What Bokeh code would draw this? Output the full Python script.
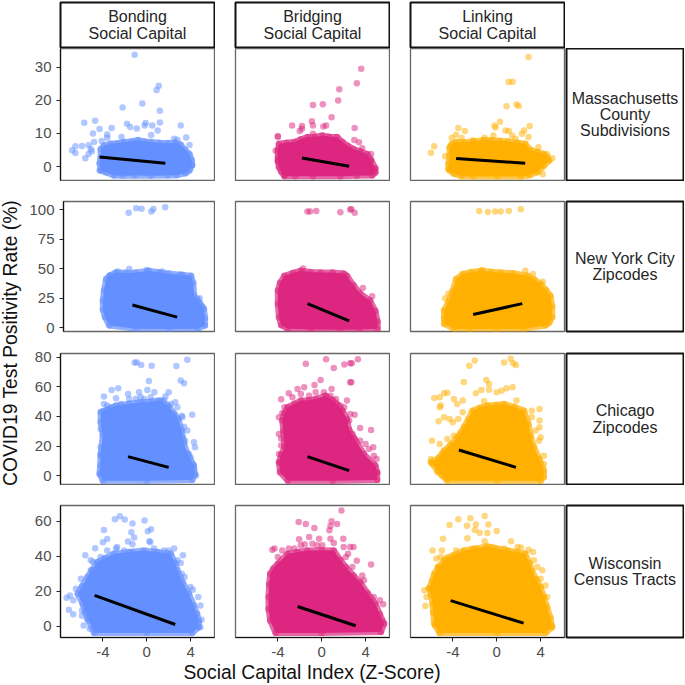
from bokeh.plotting import figure
from bokeh.layouts import row, column
from bokeh.models import Range1d, FixedTicker, Spacer
from bokeh.core.properties import value
from bokeh.embed import file_html
from bokeh.resources import INLINE
import math

# colours and labels
col_titles = ["Bonding\nSocial Capital", "Bridging\nSocial Capital", "Linking\nSocial Capital"]
row_titles = ["Massachusetts\nCounty\nSubdivisions", "New York City\nZipcodes", "Chicago\nZipcodes", "Wisconsin\nCensus Tracts"]
colors = ["#648FFF", "#DC267F", "#FFB000"]
x_title = "Social Capital Index (Z-Score)"
y_title = "COVID19 Test Positivity Rate (%)"
x_ticks = [-4, 0, 4]
y_ticks = [[0, 10, 20, 30], [0, 25, 50, 75, 100], [0, 20, 40, 60, 80], [0, 20, 40, 60]]
x_lim = (-7.86, 6.18)
y_lims = [(-4.2, 35.6), (-3.4, 107.2), (-6.0, 82.5), (-6.3, 69.0)]

# ---- Massachusetts ----
ma_bond_pts = [(-1.1,33.7),(1.1,24.4),(0.9,23.1),(-0.4,19.0),(-2.2,17.8),(1.2,16.8),(1.2,13.3),(3.1,12.4),(-5.7,13.2),(-4.7,13.8),(-4.3,11.3),(-3.2,11.6),(-1.8,12.9),(-1.5,11.9),(-0.9,11.5),(-0.2,12.4),(-0.1,13.1),(0.5,12.4),(1.0,10.9),(-4.9,10.0),(-3.6,9.7),(-3.6,8.7),(0.4,9.5),(3.6,8.8),(-2.3,8.9),(-4.8,7.4),(-6.8,4.9),(-6.5,6.1),(-6.5,4.1),(-5.9,6.2),(-5.3,6.4),(-5.1,5.3),(-5.0,4.6),(-5.3,3.8),(-5.6,2.5),(-4.1,7.7),(2.5,8.4),(2.8,8.1),(3.9,6.5),(-4.3,-1.2),(4.1,0.4)]
ma_bond_env = [(-4.2,5.2),(-3.9,6.3),(-3.3,6.9),(-2.7,7.0),(-2.1,7.4),(-1.4,7.6),(-0.8,8.0),(-0.2,7.6),(0.4,7.4),(1.2,7.2),(1.9,7.1),(2.6,7.2),(3.1,6.6),(3.5,5.0),(3.9,3.8),(4.1,2.0),(4.15,0.4),(3.9,-1.2),(3.55,-2.0),(2.7,-2.6),(1.9,-2.7),(0.4,-2.8),(-1.1,-2.7),(-2.2,-2.8),(-3.0,-2.7),(-3.7,-1.8),(-4.2,-1.2),(-4.3,1.0),(-4.2,2.8)]
ma_bond_fit = [(-4.3,2.9),(1.7,1.0)]
ma_bridge_pts = [(1.6,23.3),(1.5,19.9),(-0.8,18.6),(0.1,18.8),(0.9,14.9),(-0.9,13.7),(-0.8,12.4),(-1.8,12.2),(-1.8,11.4),(-2.7,12.4),(-2.0,10.7),(0.15,12.1),(0.4,12.4),(-0.8,9.9),(-4.0,9.2),(-4.0,8.9),(-4.2,4.8),(-4.0,1.8),(-3.4,-2.5),(3.6,29.5),(3.2,25.1),(3.0,11.6),(2.97,8.0),(3.4,7.3),(3.7,5.5),(4.5,3.8),(4.8,-1.2),(4.5,1.8)]
ma_bridge_env = [(-3.9,6.9),(-3.2,7.2),(-2.5,7.4),(-1.9,8.2),(-1.3,8.9),(-0.6,9.0),(0.05,9.4),(0.7,9.0),(1.4,8.9),(1.9,7.4),(2.4,6.2),(2.9,5.3),(3.5,4.6),(4.15,3.8),(4.5,2.0),(4.9,-0.5),(4.9,-1.8),(4.6,-2.7),(3.2,-2.8),(1.7,-2.9),(-0.8,-2.9),(-2.4,-2.9),(-3.4,-2.9),(-3.7,-1.5),(-3.9,-0.2),(-4.0,1.5),(-4.0,2.8),(-4.0,5.0)]
ma_bridge_fit = [(-1.8,2.6),(2.5,0.1)]
ma_link_pts = [(2.9,33.0),(1.1,25.5),(1.45,25.6),(0.9,18.2),(1.8,18.7),(2.0,18.3),(0.3,13.5),(-0.2,12.4),(-0.1,11.8),(3.0,12.2),(-3.5,11.6),(-2.9,10.7),(-3.7,9.6),(-4.1,8.7),(-3.2,8.6),(-5.7,6.1),(-6.0,4.2),(-4.7,3.1),(-4.3,-1.2),(4.2,-2.3),(5.06,2.5),(4.6,3.8),(3.8,5.8),(2.5,10.9),(2.3,9.9),(2.9,8.9),(0.8,10.9),(1.1,10.7),(1.4,9.4),(1.7,8.4),(-0.3,9.4),(-1.1,8.7),(-2.2,7.9)]
ma_link_env = [(-4.3,5.8),(-4.1,6.8),(-3.7,7.4),(-3.0,7.3),(-2.1,7.6),(-1.2,8.0),(-0.5,7.9),(0.3,7.8),(1.0,7.6),(1.9,7.2),(2.6,6.9),(3.1,5.0),(3.7,4.4),(4.3,3.8),(4.6,2.8),(4.8,1.8),(4.3,0.2),(3.7,-1.7),(3.0,-2.6),(2.2,-3.0),(0.0,-3.0),(-2.1,-3.0),(-3.2,-2.9),(-3.9,-2.2),(-4.4,-0.8),(-4.4,0.8),(-4.3,3.5)]
ma_link_fit = [(-3.7,2.4),(2.6,1.0)]

# ---- New York City ----
ny_bond_pts = [(-1.8,97.7),(-1.1,101.4),(-0.6,101.1),(0.3,98.6),(0.5,100.8),(1.6,102.3),(-1.75,49.7),(-2.8,47.7),(4.8,24.9),(5.06,17.8),(-3.6,44.0),(-0.1,48.9),(1.3,47.7),(3.2,44.9),(3.85,42.0),(4.6,24.3)]
ny_bond_env = [(-4.2,22.9),(-4.1,31.4),(-3.9,41.2),(-3.5,44.5),(-3.0,46.9),(-2.1,46.6),(-1.15,46.9),(0.06,48.3),(1.0,47.0),(1.9,46.0),(3.0,45.0),(4.0,44.0),(4.2,38.0),(4.3,27.0),(4.8,21.0),(5.2,15.8),(5.3,8.0),(5.3,1.7),(4.6,-1.1),(2.0,-1.2),(-1.15,-1.1),(-3.6,1.7),(-4.0,8.8),(-4.2,15.0)]
ny_bond_fit = [(-1.45,19.2),(2.7,8.8)]
ny_bridge_pts = [(-1.3,98.6),(-1.06,98.6),(-0.5,99.2),(1.7,98.0),(2.6,100.3),(2.7,100.6),(3.0,97.7),(3.75,33.6),(4.6,26.6),(-1.7,50.3)]
ny_bridge_env = [(-4.0,20.0),(-4.0,31.4),(-3.8,38.0),(-3.4,44.0),(-2.6,46.5),(-1.9,48.3),(-1.0,47.2),(-0.1,46.9),(1.0,46.8),(2.0,46.0),(2.3,44.0),(2.9,36.0),(3.5,29.0),(4.4,23.0),(4.9,14.0),(5.1,5.0),(5.1,-1.1),(3.4,-1.6),(1.7,-2.0),(-1.0,-1.6),(-3.1,-1.1),(-3.7,2.0),(-3.9,8.8)]
ny_bridge_fit = [(-1.3,20.3),(2.5,5.6)]
ny_link_pts = [(-1.6,99.2),(-0.8,98.3),(-0.15,98.6),(0.36,98.6),(1.1,99.2),(2.2,100.6),(3.3,45.5),(4.2,39.0),(2.6,48.3),(-1.3,48.9),(-4.7,24.9),(-4.4,29.0)]
ny_link_env = [(-4.8,8.0),(-4.8,14.4),(-4.4,22.0),(-4.0,31.4),(-3.7,41.2),(-3.1,45.5),(-2.3,47.2),(-1.45,48.3),(-0.5,47.5),(0.36,46.9),(1.5,46.2),(2.8,44.0),(3.4,41.0),(4.0,37.0),(4.5,32.0),(4.9,27.0),(5.06,18.0),(5.06,8.8),(4.8,4.0),(4.45,1.7),(2.5,-1.1),(0.0,-1.3),(-2.5,-1.3),(-3.9,-1.1),(-4.8,3.1)]
ny_link_fit = [(-2.15,11.0),(2.33,20.3)]

# ---- Chicago ----
ch_bond_pts = [(-1.1,76.4),(-0.9,76.4),(-0.5,74.8),(0.45,74.3),(2.7,74.1),(3.7,78.2),(3.1,64.2),(3.4,62.4),(0.2,64.0),(-2.6,59.0),(-3.2,57.9),(-3.9,53.4),(-2.8,52.3),(-1.7,55.2),(-0.7,56.3),(0.06,57.9),(0.7,56.3),(2.0,56.3),(1.7,53.4),(2.6,49.5),(4.15,41.2),(4.3,22.5),(4.4,19.1),(4.5,0.0),(3.4,33.0),(-3.9,48.4),(-3.6,47.3),(-4.2,31.5),(-4.2,19.1),(-4.2,13.5),(-4.2,6.8),(-4.2,1.1),(3.5,23.6),(4.0,12.4),(3.2,40.5),(2.5,40.5),(-3.25,46.2),(-2.35,48.4),(-1.6,51.8),(-1.0,51.8),(-0.55,52.9),(-0.25,51.8),(0.36,52.9),(1.0,50.7),(1.6,50.7),(2.2,48.4),(2.8,46.2),(3.25,39.4),(-3.9,43.9),(-3.6,43.9),(3.25,25.9),(3.7,30.4),(3.85,14.6),(4.15,7.9),(4.3,4.5)]
ch_bond_env = [(-4.2,43.0),(-3.5,45.0),(-2.8,47.3),(-1.6,48.5),(-0.55,49.5),(0.4,50.0),(1.3,50.7),(2.0,47.0),(2.5,42.0),(2.9,38.0),(3.2,30.0),(3.4,22.0),(3.7,15.0),(4.3,6.8),(4.4,1.0),(4.15,-2.9),(0.0,-3.4),(-4.0,-3.4),(-4.3,1.1),(-4.2,14.6),(-4.0,28.0),(-4.2,36.0)]
ch_bond_fit = [(-1.7,12.8),(2.0,5.6)]
ch_bridge_pts = [(-1.45,75.5),(0.4,78.6),(1.1,72.7),(2.06,75.0),(2.6,75.9),(2.75,75.9),(3.3,78.6),(2.7,63.0),(2.6,63.0),(-0.1,64.6),(-0.66,61.3),(-1.6,59.7),(-2.2,58.6),(-3.0,55.6),(-3.7,51.6),(0.9,58.6),(2.3,50.7),(-3.6,42.3),(-3.7,25.0),(-3.7,20.3),(-3.8,9.0),(4.5,30.9),(3.5,32.2),(2.6,41.7),(3.0,41.2),(4.7,19.1),(5.0,11.3),(5.06,2.3),(4.0,21.4),(-2.67,52.9),(-1.9,55.2),(-1.15,54.0),(-0.55,56.3),(0.2,56.3),(0.8,54.0),(1.3,51.8),(1.7,47.3),(-3.4,46.2),(-3.9,39.4),(2.05,46.2),(2.5,37.2),(2.8,28.2),(3.5,23.6),(4.3,18.0),(4.75,13.5),(-3.9,14.6),(-3.9,28.2)]
ch_bridge_env = [(-3.6,37.2),(-3.4,42.0),(-3.1,46.2),(-2.5,48.5),(-1.9,50.7),(-1.2,51.0),(-0.55,51.8),(0.36,54.0),(1.0,51.0),(1.4,48.4),(1.9,43.9),(2.3,38.0),(2.5,31.0),(3.0,25.0),(3.85,14.6),(4.9,6.8),(5.06,2.0),(5.06,-2.9),(1.0,-3.4),(-3.1,-3.4),(-3.8,2.3),(-3.9,9.0),(-3.7,14.0),(-3.4,19.1),(-3.5,30.0)]
ch_bridge_fit = [(-1.3,12.8),(2.5,3.4)]
ch_link_pts = [(-2.5,74.3),(-2.0,77.7),(0.67,76.4),(1.27,79.0),(1.5,75.9),(1.75,74.8),(-3.0,63.3),(-0.94,64.6),(-0.7,61.9),(-0.7,58.0),(-1.4,57.9),(-1.9,55.6),(0.0,56.3),(0.45,57.4),(0.9,59.0),(1.45,59.7),(-5.7,52.5),(-5.2,52.9),(-4.8,55.6),(-4.5,55.9),(-5.1,47.3),(-5.2,46.2),(-3.9,51.8),(-3.6,48.4),(-3.1,50.7),(-4.8,39.4),(-5.3,36.7),(-4.3,38.3),(-4.0,36.0),(-3.5,38.3),(-3.1,42.8),(-5.9,23.6),(-5.2,21.4),(-6.0,11.3),(-5.8,7.9),(-5.4,2.3),(-4.6,-1.6),(-4.9,14.6),(-4.5,24.8),(-3.9,27.0),(-5.1,9.0),(3.9,45.0),(3.9,37.2),(3.9,32.7),(4.3,13.5),(4.0,25.9),(3.2,43.9),(1.8,50.7),(-1.15,50.2),(3.2,39.4),(3.55,30.4),(3.85,23.6),(4.3,7.9)]
ch_link_env = [(-3.6,25.9),(-3.3,29.0),(-3.0,32.7),(-2.6,38.0),(-2.2,43.9),(-1.5,46.0),(-0.85,47.3),(0.0,47.8),(0.67,48.4),(1.6,46.5),(2.5,43.9),(2.9,34.9),(3.1,27.0),(3.4,19.1),(3.9,11.0),(4.3,3.4),(4.3,-1.0),(4.0,-3.4),(0.0,-3.4),(-4.5,-3.4),(-5.0,0.0),(-5.4,3.4),(-6.0,9.0),(-5.3,12.0),(-4.8,16.9),(-4.2,21.0)]
ch_link_fit = [(-3.45,17.3),(1.75,5.6)]

# ---- Wisconsin ----
wi_bond_pts = [(-2.9,61.1),(-2.45,62.9),(-2.0,61.0),(-1.3,58.7),(-0.2,60.4),(-3.9,55.0),(-1.4,53.7),(-1.15,50.7),(0.1,54.3),(0.4,55.4),(-3.6,49.9),(-4.0,48.0),(-1.7,48.4),(-1.3,46.9),(0.24,48.6),(0.33,48.0),(-4.7,44.6),(-5.6,40.6),(-2.7,45.3),(2.5,44.4),(3.3,40.6),(3.1,36.2),(3.45,28.2),(-6.0,27.2),(-6.45,21.5),(-7.3,16.4),(-7.0,17.7),(-6.7,14.9),(-7.1,9.5),(-6.7,7.0),(-5.9,9.1),(-5.9,6.1),(-5.75,0.6),(-5.2,-1.3),(-5.45,4.4),(4.2,21.0),(4.7,16.8),(4.9,12.0),(5.0,3.8),(4.9,-0.4),(-5.1,32.0),(-5.1,37.7),(-4.2,39.6),(-3.6,43.4),(-2.8,44.4),(-2.06,43.4),(-1.3,42.5),(0.67,44.4),(1.6,43.4),(2.0,43.4),(-4.9,36.8),(2.8,37.7),(3.2,30.0),(4.0,22.5)]
wi_bond_env = [(-6.3,18.7),(-5.9,23.0),(-5.4,28.2),(-5.0,32.0),(-4.5,36.8),(-3.8,39.0),(-3.0,41.5),(-1.6,42.5),(-0.25,43.4),(1.0,42.5),(2.2,41.5),(2.6,36.0),(2.8,32.0),(3.3,25.0),(3.85,18.7),(4.3,12.0),(4.6,7.2),(4.75,3.0),(4.75,-0.4),(4.15,-3.8),(0.0,-3.8),(-4.8,-3.8),(-5.3,3.4),(-5.6,8.0),(-5.85,13.0)]
wi_bond_fit = [(-4.75,17.7),(2.6,1.1)]
wi_bridge_pts = [(1.8,66.1),(-2.1,59.6),(-1.45,58.5),(-0.67,56.2),(0.9,60.0),(1.4,58.5),(0.8,57.3),(0.7,54.9),(-2.06,49.7),(-1.15,51.0),(-0.24,50.0),(0.8,50.0),(1.97,50.0),(-4.3,44.4),(-4.5,43.8),(-3.0,44.4),(-2.5,44.4),(-1.55,46.9),(-0.85,47.2),(0.06,46.3),(1.1,47.6),(2.6,45.3),(2.9,45.3),(2.4,41.5),(3.2,37.5),(4.5,35.4),(3.7,29.1),(5.3,14.9),(5.6,12.6),(5.5,2.9),(-4.0,39.6),(-3.6,43.4),(-1.9,46.3),(-0.4,46.3),(2.0,45.3),(2.2,39.6),(2.8,33.9),(3.85,26.3),(4.75,16.8)]
wi_bridge_env = [(-4.7,30.1),(-4.4,33.0),(-4.0,35.8),(-3.1,41.5),(-2.2,42.5),(-1.3,43.4),(0.0,43.5),(1.1,43.4),(1.7,38.0),(2.2,33.9),(2.9,29.0),(3.5,25.3),(4.2,19.0),(4.9,13.0),(5.3,7.0),(5.7,1.5),(5.4,-3.2),(0.0,-3.8),(-4.2,-3.8),(-4.7,3.4),(-4.85,10.0),(-4.85,16.8),(-4.8,24.0)]
wi_bridge_fit = [(-2.2,11.4),(3.1,0.4)]
wi_link_pts = [(-1.1,63.0),(-3.5,61.1),(-2.4,61.7),(-4.3,57.9),(-2.7,57.5),(-1.9,58.1),(-0.76,58.1),(-2.0,55.0),(-1.55,53.5),(-0.85,53.3),(0.0,54.5),(-2.67,50.3),(-1.1,48.6),(-4.9,50.0),(1.3,48.6),(-5.85,43.4),(-5.0,43.4),(3.3,42.5),(2.9,43.8),(2.2,45.0),(-5.1,39.6),(-5.5,38.7),(4.15,32.0),(3.7,33.9),(-6.6,20.6),(-6.2,22.1),(-6.5,11.6),(-6.4,16.8),(-5.6,0.6),(-5.2,-2.3),(5.0,0.6),(4.6,16.8),(4.45,23.4),(-4.5,39.6),(-3.7,43.4),(-2.2,44.4),(-0.4,45.3),(0.67,44.4),(1.9,45.3),(3.4,37.7),(4.0,27.2),(-5.4,33.9)]
wi_link_env = [(-6.15,21.5),(-5.9,26.0),(-5.7,30.0),(-5.3,34.0),(-4.8,37.7),(-4.0,40.5),(-3.0,43.4),(-1.9,44.5),(-0.85,45.7),(0.0,44.5),(1.0,43.4),(1.8,42.5),(2.6,41.5),(3.0,36.0),(3.2,32.0),(3.6,27.0),(4.0,22.5),(4.3,17.0),(4.6,11.0),(4.9,5.0),(5.06,-0.4),(4.45,-3.8),(0.0,-3.8),(-5.2,-3.8),(-5.7,1.5),(-5.8,8.0),(-5.85,13.0),(-6.0,18.0)]
wi_link_fit = [(-4.2,14.7),(2.45,1.9)]

panels = [
    [(ma_bond_pts, ma_bond_env, ma_bond_fit), (ma_bridge_pts, ma_bridge_env, ma_bridge_fit), (ma_link_pts, ma_link_env, ma_link_fit)],
    [(ny_bond_pts, ny_bond_env, ny_bond_fit), (ny_bridge_pts, ny_bridge_env, ny_bridge_fit), (ny_link_pts, ny_link_env, ny_link_fit)],
    [(ch_bond_pts, ch_bond_env, ch_bond_fit), (ch_bridge_pts, ch_bridge_env, ch_bridge_fit), (ch_link_pts, ch_link_env, ch_link_fit)],
    [(wi_bond_pts, wi_bond_env, wi_bond_fit), (wi_bridge_pts, wi_bridge_env, wi_bridge_fit), (wi_link_pts, wi_link_env, wi_link_fit)],
]

FONT = "Liberation Sans"
col_w = [189, 175, 175]
col_left = [34, 20, 20]
row_h = [133, 157, 147, 178]
row_top = [0, 20, 15, 20]
row_bottom = [1, 7, 1, 26]


def blank(width, height, left=0, right=0, top=0, bottom=0):
    f = figure(width=width, height=height, output_backend="svg", toolbar_location=None,
               x_axis_type=None, y_axis_type=None, x_range=Range1d(0, 1), y_range=Range1d(0, 1),
               min_border_left=left, min_border_right=right, min_border_top=top, min_border_bottom=bottom)
    f.grid.visible = False
    return f


def strip(width, height, label, left, right, top, bottom, ypos=0.5):
    f = blank(width, height, left, right, top, bottom)
    f.outline_line_color = "#111111"
    f.outline_line_width = 2
    f.outline_line_alpha = 1
    f.text(x=[0.5], y=[ypos], text=[label], text_font=value(FONT), text_font_size="16px",
           text_color="#262626", text_align="center", text_baseline="middle", text_line_height=0.96)
    return f


def panel(r, c):
    pts, env, fit = panels[r][c]
    color = colors[c]
    left_axis = c == 0
    bottom_axis = r == 3
    f = figure(width=col_w[c], height=row_h[r], output_backend="svg", toolbar_location=None,
               x_range=Range1d(*x_lim), y_range=Range1d(*y_lims[r]),
               x_axis_type="linear" if bottom_axis else None,
               y_axis_type="linear" if left_axis else None,
               min_border_left=col_left[c], min_border_right=1,
               min_border_top=row_top[r], min_border_bottom=row_bottom[r])
    f.grid.visible = False
    f.outline_line_color = "#666666"
    f.outline_line_width = 1.3
    f.outline_line_alpha = 1
    for ax, ticks in ((f.xaxis, x_ticks), (f.yaxis, y_ticks[r])):
        if len(ax):
            ax.ticker = FixedTicker(ticks=ticks)
            ax.major_label_overrides = {t: str(t) for t in ticks}
            ax.major_label_text_font = FONT
            ax.major_label_text_font_size = "15px"
            ax.major_label_text_color = "#4D4D4D"
            ax.major_label_standoff = 5
            ax.major_tick_line_color = "#222222"
            ax.major_tick_in = 0
            ax.major_tick_out = 4
            ax.minor_tick_line_color = None
            ax.axis_line_color = "#111111"
            ax.axis_line_width = 1.2
    ex = [p[0] for p in env]
    ey = [p[1] for p in env]
    f.patch(ex, ey, fill_color=color, fill_alpha=1, line_color=color, line_alpha=0.7,
            line_width=6, line_join="round")
    f.scatter(ex, ey, size=6.5, color=color, alpha=0.5, line_width=0)
    f.scatter([p[0] for p in pts], [p[1] for p in pts], size=6.5, color=color, alpha=0.5, line_width=0)
    f.line([p[0] for p in fit], [p[1] for p in fit], line_color="black", line_width=3)
    return f


top_row = row(
    strip(col_w[0], 48, col_titles[0], col_left[0], 1, 2, 1),
    strip(col_w[1], 48, col_titles[1], col_left[1], 1, 2, 1),
    strip(col_w[2], 48, col_titles[2], col_left[2], 1, 2, 1),
    Spacer(width=119, height=48), spacing=0)

rows = [top_row]
for r in range(4):
    kids = [panel(r, c) for c in range(3)]
    kids.append(strip(119, row_h[r], row_titles[r], 1, 1, row_top[r], row_bottom[r]))
    rows.append(row(*kids, spacing=0))

x_fig = blank(658, 21)
x_fig.outline_line_color = None
x_fig.x_range = Range1d(26, 684)
x_fig.text(x=[311.5], y=[0.55], text=[x_title], text_font=value(FONT), text_font_size="19.3px",
           text_color="#111111", text_align="center", text_baseline="middle")
rows.append(x_fig)

y_fig = blank(26, 684)
y_fig.outline_line_color = None
y_fig.y_range = Range1d(684, 0)
y_fig.text(x=[0.39], y=[342.5], text=[y_title], text_font=value(FONT), text_font_size="19.3px",
           text_color="#111111", text_align="center", text_baseline="middle", angle=math.pi / 2)

page = row(y_fig, column(*rows, spacing=0), spacing=0)
open("out.html", "w").write(file_html(page, INLINE))
